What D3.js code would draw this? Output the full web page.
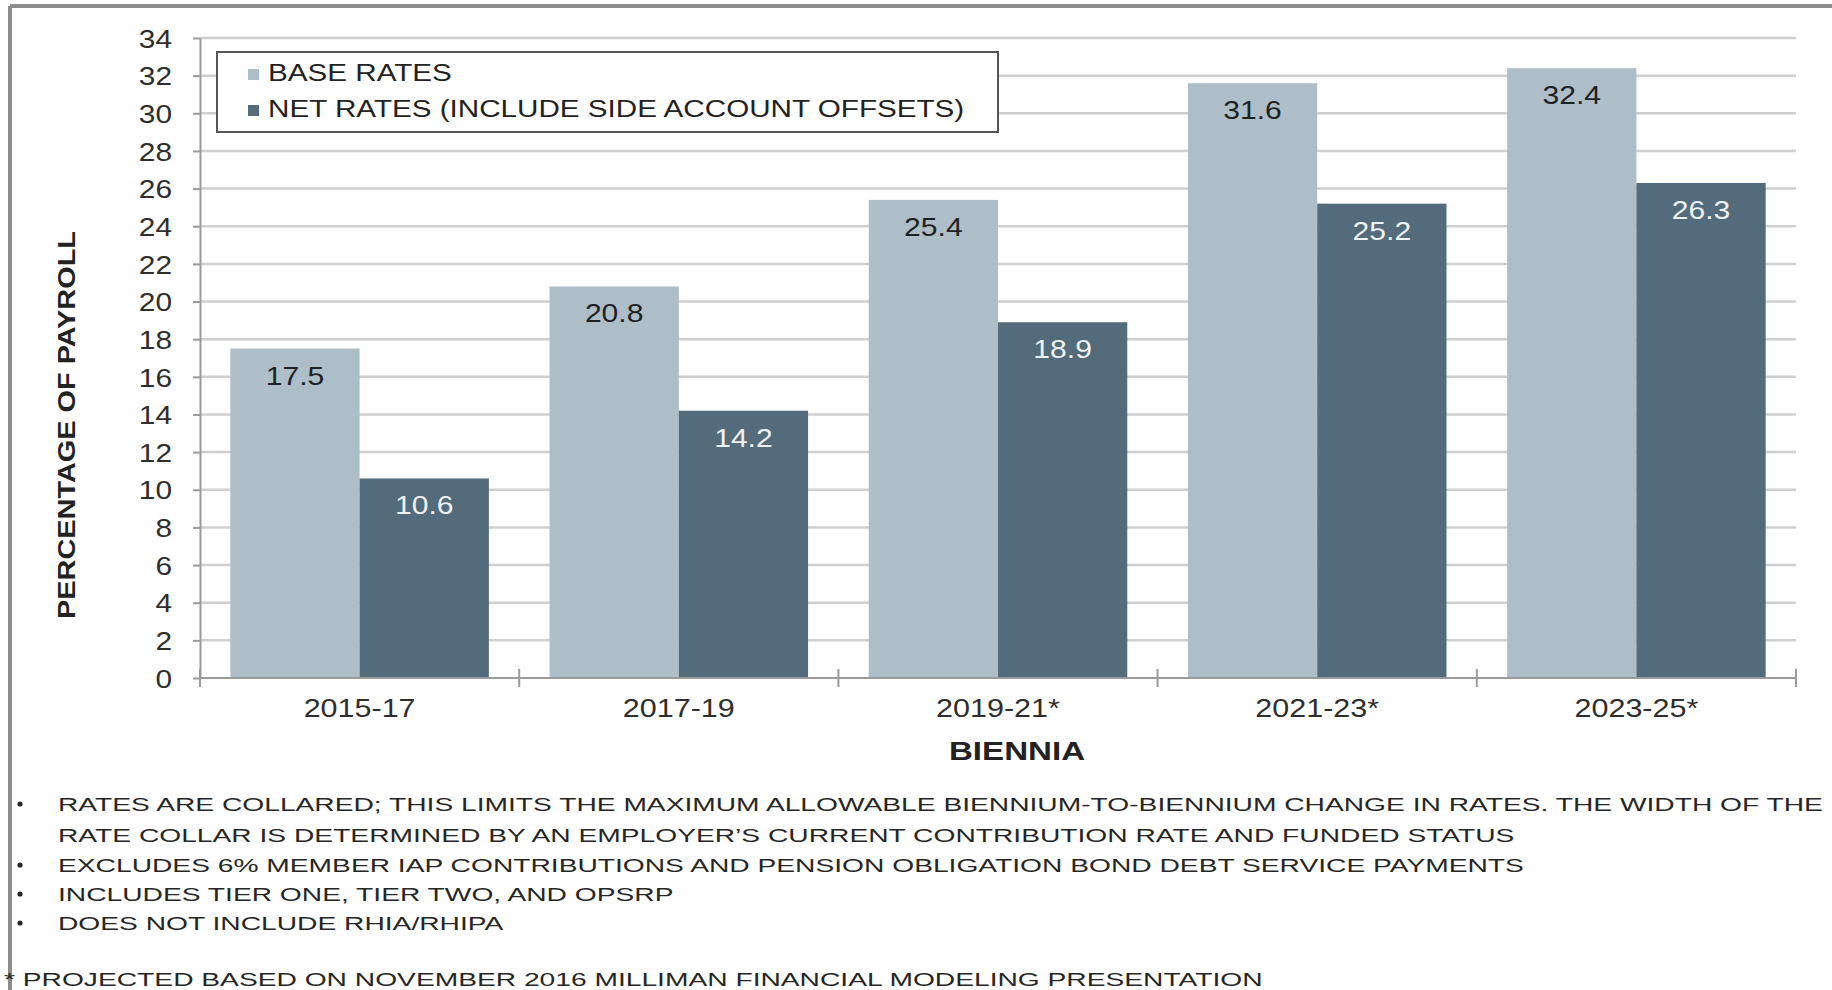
<!DOCTYPE html>
<html>
<head>
<meta charset="utf-8">
<script src="https://cdn.jsdelivr.net/npm/d3@7/dist/d3.min.js"></script>
<style>
  html, body { margin: 0; padding: 0; background: #fff; }
  svg { display: block; font-family: "Liberation Sans", Arial, sans-serif; }
</style>
</head>
<body>
<svg id="chart" width="1832" height="990"></svg>
<script>
// Employer contribution rates by biennium (percent of payroll)
const categories = ["2015-17", "2017-19", "2019-21*", "2021-23*", "2023-25*"];
const seriesNames = ["BASE RATES", "NET RATES (INCLUDE SIDE ACCOUNT OFFSETS)"];
const baseRates = [17.5, 20.8, 25.4, 31.6, 32.4];
const netRates = [10.6, 14.2, 18.9, 25.2, 26.3];
const yTicks = [0, 2, 4, 6, 8, 10, 12, 14, 16, 18, 20, 22, 24, 26, 28, 30, 32, 34];
const yTitle = "PERCENTAGE OF PAYROLL";
const xTitle = "BIENNIA";
const notes = [
  "RATES ARE COLLARED; THIS LIMITS THE MAXIMUM ALLOWABLE BIENNIUM-TO-BIENNIUM CHANGE IN RATES. THE WIDTH OF THE",
  "RATE COLLAR IS DETERMINED BY AN EMPLOYER\u2019S CURRENT CONTRIBUTION RATE AND FUNDED STATUS",
  "EXCLUDES 6% MEMBER IAP CONTRIBUTIONS AND PENSION OBLIGATION BOND DEBT SERVICE PAYMENTS",
  "INCLUDES TIER ONE, TIER TWO, AND OPSRP",
  "DOES NOT INCLUDE RHIA/RHIPA"
];
const noteBullets = [true, false, true, true, true];
const footnote = "* PROJECTED BASED ON NOVEMBER 2016 MILLIMAN FINANCIAL MODELING PRESENTATION";

const rows = categories.map((c, i) => ({ cat: c, values: [baseRates[i], netRates[i]] }));

const colors = ["#adbec8", "#536b7a"];
const labelColors = ["#1f2225", "#eef2f4"];

const svg = d3.select("#chart");
svg.append("rect").attr("width", 1832).attr("height", 990).attr("fill", "#fff");

// frame
svg.append("line").attr("x1", 10).attr("x2", 1832).attr("y1", 6).attr("y2", 6)
  .attr("stroke", "#8c8c8c").attr("stroke-width", 4);
svg.append("line").attr("x1", 10).attr("x2", 10).attr("y1", 6).attr("y2", 990)
  .attr("stroke", "#8c8c8c").attr("stroke-width", 4);

const plot = { left: 200, right: 1796, top: 38, bottom: 678 };

const y = d3.scaleLinear().domain([0, 34]).range([plot.bottom, plot.top]);
const x0 = d3.scaleBand().domain(categories).range([plot.left, plot.right])
  .paddingInner(0.19).paddingOuter(0.095);
const x1 = d3.scaleBand().domain([0, 1]).range([0, x0.bandwidth()]);

// gridlines
svg.append("g").selectAll("line").data(yTicks.filter(t => t > 0)).join("line")
  .attr("x1", plot.left).attr("x2", plot.right)
  .attr("y1", d => y(d)).attr("y2", d => y(d))
  .attr("stroke", "#cfcfcf").attr("stroke-width", 2.5);

// y axis
const yAxis = svg.append("g").attr("transform", `translate(${plot.left},0)`)
  .call(d3.axisLeft(y).tickValues(yTicks).tickSize(7).tickSizeOuter(0));
yAxis.select(".domain").attr("stroke", "#9a9a9a").attr("stroke-width", 2);
yAxis.selectAll(".tick line").attr("stroke", "#9a9a9a").attr("stroke-width", 2);
yAxis.selectAll(".tick text")
  .attr("x", null).attr("dy", "0.36em")
  .attr("transform", `translate(-28,0) scale(1.17,1)`)
  .attr("font-size", 25.5).attr("fill", "#2e2e2e")
  .attr("font-family", "Liberation Sans, Arial, sans-serif");

// bars
const groups = svg.append("g").selectAll("g").data(rows).join("g")
  .attr("transform", d => `translate(${x0(d.cat)},0)`);
groups.selectAll("rect").data(d => d.values.map((v, k) => ({ v, k }))).join("rect")
  .attr("x", d => x1(d.k)).attr("width", x1.bandwidth())
  .attr("y", d => y(d.v)).attr("height", d => y(0) - y(d.v))
  .attr("fill", d => colors[d.k]);
groups.selectAll("text").data(d => d.values.map((v, k) => ({ v, k }))).join("text")
  .attr("transform", d => `translate(${x1(d.k) + x1.bandwidth() / 2},${y(d.v) + 36}) scale(1.18,1)`)
  .attr("text-anchor", "middle").attr("font-size", 25.5)
  .attr("fill", d => labelColors[d.k])
  .text(d => d3.format(".1f")(d.v));

// x axis baseline and boundary ticks
svg.append("line").attr("x1", plot.left).attr("x2", plot.right)
  .attr("y1", y(0)).attr("y2", y(0)).attr("stroke", "#9a9a9a").attr("stroke-width", 2);
const bounds = d3.range(categories.length + 1).map(i => x0.range()[0] + i * x0.step());
svg.append("g").selectAll("line").data(bounds).join("line")
  .attr("x1", d => d).attr("x2", d => d)
  .attr("y1", y(0) - 9).attr("y2", y(0) + 9)
  .attr("stroke", "#9a9a9a").attr("stroke-width", 2);
svg.append("g").selectAll("text").data(categories).join("text")
  .attr("transform", d => `translate(${x0(d) + x0.bandwidth() / 2},717) scale(1.22,1)`)
  .attr("text-anchor", "middle").attr("font-size", 25).attr("fill", "#2e2e2e")
  .text(d => d);

// axis titles
svg.append("text")
  .attr("transform", `translate(1017,760) scale(1.3,1)`)
  .attr("text-anchor", "middle").attr("font-size", 25.5).attr("font-weight", "bold")
  .attr("fill", "#222").text(xTitle);
svg.append("text")
  .attr("transform", `translate(75,425) rotate(-90) scale(1.23,1)`)
  .attr("text-anchor", "middle").attr("font-size", 23.5).attr("font-weight", "bold")
  .attr("fill", "#222").text(yTitle);

// legend
const legend = svg.append("g");
legend.append("rect").attr("x", 217).attr("y", 52).attr("width", 781).attr("height", 80)
  .attr("fill", "#fff").attr("stroke", "#555").attr("stroke-width", 2);
const legRows = legend.selectAll("g").data(seriesNames).join("g")
  .attr("transform", (d, i) => `translate(248,${81 + i * 36})`);
legRows.append("rect").attr("x", 0).attr("y", -12).attr("width", 11).attr("height", 11)
  .attr("fill", (d, i) => colors[i]);
legRows.append("text").attr("transform", "translate(20,0) scale(1.2,1)")
  .attr("font-size", 24.7).attr("fill", "#222").text(d => d);

// notes
const noteBase = [811, 842, 872, 901, 930];
const noteG = svg.append("g").attr("fill", "#262626");
const noteTexts = noteG.selectAll("text.note").data(notes).join("text")
  .attr("class", "note").attr("font-size", 18.6).text(d => d);
const firstLen = noteTexts.node().getComputedTextLength();
const sxNote = 1765 / firstLen;
noteTexts.attr("transform", (d, i) => `translate(58,${noteBase[i]}) scale(${sxNote},1)`);
noteG.selectAll("circle").data(notes.map((d, i) => i).filter(i => noteBullets[i])).join("circle")
  .attr("cx", 20).attr("cy", i => noteBase[i] - 7).attr("r", 2.6);
noteG.append("text").attr("font-size", 18.6)
  .attr("transform", `translate(4,986) scale(${sxNote},1)`)
  .text(footnote);
</script>
</body>
</html>
